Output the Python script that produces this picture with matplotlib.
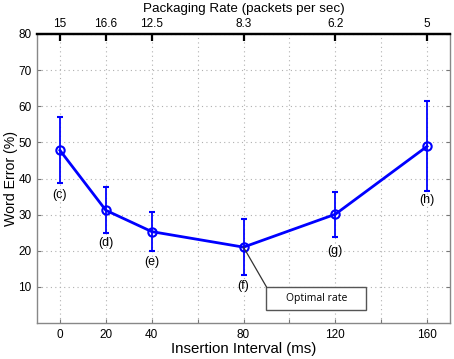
import matplotlib
matplotlib.use("Agg")
import matplotlib.pyplot as plt
from matplotlib.patches import Rectangle

interval = [0, 20, 40, 80, 120, 160]
word_error = [47.8, 31.2, 25.3, 21.0, 30.1, 48.9]
err_low = [38.8, 24.8, 20.0, 13.2, 23.9, 36.5]
err_high = [57.0, 37.6, 30.7, 28.8, 36.2, 61.4]
point_labels = ["(c)", "(d)", "(e)", "(f)", "(g)", "(h)"]
label_y = [35.5, 22.2, 16.8, 10.2, 20.0, 34.0]
rate_labels = ["15", "16.6", "12.5", "8.3", "6.2", "5"]
bottom_ticks = [0, 20, 40, 80, 120, 160]
grid_ticks = [0, 20, 40, 60, 80, 100, 120, 140, 160]

plt.rcParams['font.family'] = ['Liberation Sans', 'DejaVu Sans']

fig = plt.figure(figsize=(4.54, 3.59), dpi=100)
ax = fig.add_axes([37/454, 36/359, 413/454, 289/359])

yerr = [[w - l for w, l in zip(word_error, err_low)],
        [h - w for w, h in zip(word_error, err_high)]]
ax.errorbar(interval, word_error, yerr=yerr, color='#0000ff', lw=2,
            elinewidth=1.3, capsize=2.5, capthick=1.3, marker='o',
            markersize=6, markerfacecolor='none', markeredgewidth=1.5, zorder=3)

for x, y, t in zip(interval, label_y, point_labels):
    ax.text(x, y, t, ha='center', va='center', fontsize=9)

ax.set_xlim(-10, 170)
ax.set_ylim(0, 80)
ax.set_xticks(grid_ticks)
ax.set_xticklabels([str(t) if t in bottom_ticks else "" for t in grid_ticks], fontsize=8.5)
ax.set_yticks([10, 20, 30, 40, 50, 60, 70, 80])
ax.set_yticklabels(["10", "20", "30", "40", "50", "60", "70", "80"], fontsize=8.5)
ax.grid(True, ls=(0, (1, 3)), color='#b0b0b0', lw=0.8)
ax.tick_params(direction='in', length=3, color='#777777', top=False, right=True, pad=4)
for s in ['left', 'right', 'bottom']:
    ax.spines[s].set_color('#888888')
    ax.spines[s].set_linewidth(1.0)
ax.spines['top'].set_color('black')
ax.spines['top'].set_linewidth(1.6)
ax.set_xlabel("Insertion Interval (ms)", fontsize=10.8, labelpad=1)
ax.set_ylabel("Word Error (%)", fontsize=10.2)
ax.yaxis.set_label_coords(-0.047, 0.5)

ax2 = ax.twiny()
ax2.set_xlim(ax.get_xlim())
ax2.set_xticks(bottom_ticks)
ax2.set_xticklabels(rate_labels, fontsize=8.5)
ax2.tick_params(direction='in', length=5, width=1.6, color='black', pad=3)
ax2.set_xlabel("Packaging Rate (packets per sec)", fontsize=9.6, labelpad=4)
for s in ['left', 'right', 'bottom']:
    ax2.spines[s].set_visible(False)
ax2.spines['top'].set_color('black')
ax2.spines['top'].set_linewidth(1.6)

# annotation box
ax.add_patch(Rectangle((90, 3.6), 43.5, 6.4, fc='white', ec='#555555', lw=1.0, zorder=4))
ax.text(111.75, 6.8, "Optimal rate", ha='center', va='center', fontsize=7.5,
        family=['Open Sans', 'DejaVu Sans'], zorder=5)
ax.plot([80, 90], [21.0, 10.0], color='#333333', lw=0.9, zorder=4)

fig.savefig("out.png", dpi=100)
